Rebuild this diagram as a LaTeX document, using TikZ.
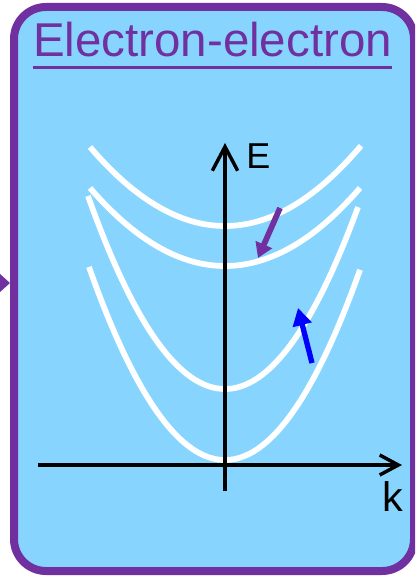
\documentclass[tikz,border=0pt]{standalone}
\usepackage{fontspec}
\setmainfont{Liberation Sans}
\usetikzlibrary{arrows.meta}
\definecolor{boxfill}{RGB}{135,213,255}
\definecolor{boxpurple}{RGB}{112,48,160}
\begin{document}
\begin{tikzpicture}[x=0.75pt,y=-0.75pt,
  band/.style={white, line width=4.3pt},
  axisline/.style={black, line width=2.6pt},
  lbl/.style={inner sep=0pt, font=\fontsize{27}{32}\selectfont}]
\useasboundingbox (0,0) rectangle (415,577);
\clip (0,0) rectangle (415,577);
% incoming pointer
\fill[boxpurple] (0,274) -- (10,283) -- (0,292) -- cycle;
% panel
\draw[boxpurple, fill=boxfill, line width=6pt, rounded corners=24pt] (14,7) rectangle (414,571);
% title
\node[inner sep=0pt, anchor=base, text=boxpurple, font=\fontsize{35.6}{42}\selectfont] (title) at (212.5,57) {Electron-electron};
\draw[boxpurple, line width=2.2pt] ([yshift=-7.6pt]title.base west) -- ([yshift=-7.6pt]title.base east);
% bands
\draw[band] plot[domain=-135:136, samples=80] ({225+\x}, {226-79*(\x/135)^2});
\draw[band] plot[domain=-135:135, samples=80] ({225+\x}, {266-78*(\x/135)^2});
\draw[band] plot[domain=-137:133, samples=80] ({225+\x}, {389-193*(\x/137)^2});
\draw[band] plot[domain=-136:135, samples=80] ({225+\x}, {460-193*(\x/136)^2});
% axes
\coordinate (ybot) at (225,491);
\coordinate (ytop) at (225,143);
\coordinate (xleft) at (38,465);
\coordinate (xright) at (402,465);
\draw[axisline, -{Straight Barb[length=18pt, width=19pt]}] (ybot) -- (ytop);
\draw[axisline, -{Straight Barb[length=14pt, width=15pt]}] (xleft) -- (xright);
\node[lbl, anchor=west] (E) at (246,156) {E};
\node[lbl, anchor=north, font=\fontsize{31}{36}\selectfont] (k) at (393,481) {k};
% scattering arrows
\coordinate (pt) at (280,208);
\coordinate (ph) at (258,258);
\draw[boxpurple, line width=4.3pt, -{Triangle[length=11pt, width=13pt]}] (pt) -- (ph);
\coordinate (bt) at (312,363);
\coordinate (bh) at (298,308);
\draw[blue, line width=4pt, -{Triangle[length=13pt, width=14pt]}] (bt) -- (bh);
\end{tikzpicture}
\end{document}
